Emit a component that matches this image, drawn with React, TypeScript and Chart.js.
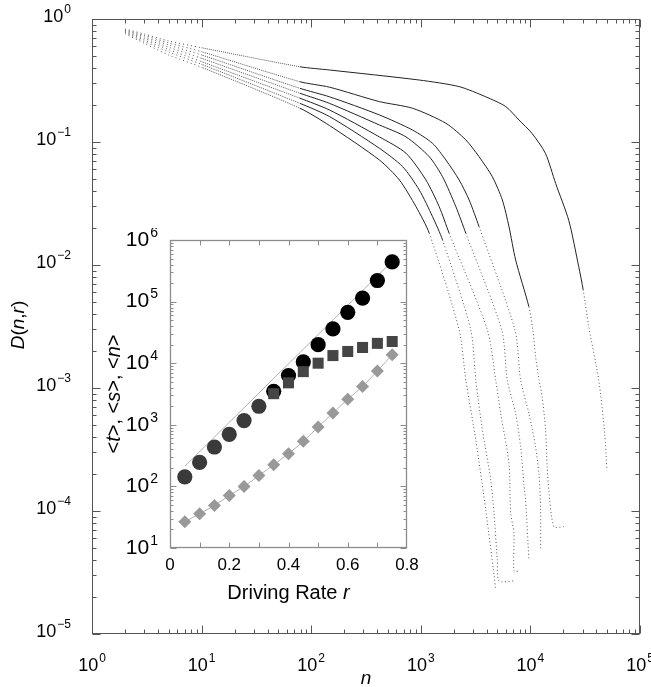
import React, { useEffect, useRef } from "react";
import { Chart, registerables } from "chart.js";

Chart.register(...registerables);

const FONT = '"Liberation Sans", Arial, Helvetica, sans-serif';

// ---------- main plot: D(n, r) curves (7 driving rates) ----------
const c1N = [2, 3, 5, 10, 79, 147, 969, 2240, 3920, 5960, 7860, 10300, 13700, 17000, 22400, 27600, 30300, 34000, 42000, 47600, 49900];
const c1D = [0.83, 0.755, 0.663, 0.584, 0.409, 0.385, 0.319, 0.282, 0.233, 0.194, 0.151, 0.118, 0.081, 0.046, 0.023, 0.0097, 0.0063, 0.0032, 0.00116, 0.00043, 0.000215];

const c2N = [2, 3, 5, 10, 79, 147, 419, 842, 1694, 2576, 3401, 4497, 5546, 6378, 7330, 9688, 10535, 11142, 12000, 12800, 13750, 14220, 14730, 16370, 20170];
const c2D = [0.82, 0.735, 0.64, 0.542, 0.309, 0.279, 0.213, 0.188, 0.142, 0.104, 0.0759, 0.0522, 0.0338, 0.0205, 0.011, 0.00458, 0.00296, 0.0018, 0.00116, 0.00085, 0.000456, 0.000229, 0.000148, 0.0000745, 0.0000745];

const c3N = [2, 3, 5, 10, 79, 147, 419, 842, 1280, 1694, 2239, 2761, 3401, 7232, 8140, 9688, 11142, 11950, 12390, 12400];
const c3D = [0.81, 0.715, 0.615, 0.51, 0.273, 0.233, 0.166, 0.125, 0.0975, 0.0714, 0.0491, 0.0338, 0.0205, 0.00296, 0.00116, 0.00062, 0.000333, 0.000202, 0.000102, 0.0000497];

const c4N = [2, 3, 5, 10, 79, 147, 419, 733, 1195, 1578, 2089, 2576, 5474, 6155, 7330, 8140, 8730, 9040, 9688];
const c4D = [0.795, 0.695, 0.59, 0.479, 0.249, 0.206, 0.1375, 0.11, 0.0759, 0.0522, 0.0298, 0.0181, 0.00296, 0.00116, 0.00062, 0.000333, 0.000163, 0.000123, 0.00004];

const c5N = [2, 3, 5, 10, 79, 147, 419, 733, 1114, 1472, 1815, 4049, 4826, 5358, 6378, 6607, 7083, 7083, 7859];
const c5D = [0.785, 0.675, 0.565, 0.45, 0.227, 0.182, 0.11, 0.081, 0.0491, 0.0298, 0.0181, 0.00296, 0.00116, 0.00062, 0.000244, 0.000096, 0.000066, 0.0000325, 0.0000325];

const c6N = [2, 3, 5, 10, 79, 147, 419, 683, 969, 1280, 1578, 2860, 3175, 3648, 4348, 4656, 4990, 5174, 7083];
const c6D = [0.775, 0.655, 0.54, 0.428, 0.206, 0.161, 0.0889, 0.063, 0.0407, 0.0247, 0.016, 0.00296, 0.00116, 0.000456, 0.000179, 0.000096, 0.00004, 0.000027, 0.000027];

const c7N = [2, 3, 5, 10, 79, 147, 419, 638, 904, 1195, 2239, 2576, 3175, 3915, 4826];
const c7D = [0.76, 0.634, 0.51, 0.405, 0.188, 0.136, 0.0714, 0.0491, 0.0298, 0.0181, 0.00296, 0.00116, 0.000378, 0.000102, 0.0000235];

const mainCurves: [number[], number[]][] = [
  [c1N, c1D], [c2N, c2D], [c3N, c3D], [c4N, c4D], [c5N, c5D], [c6N, c6D], [c7N, c7D],
];

const mainXExps = [0, 1, 2, 3, 4, 5];
const mainYExps = [0, -1, -2, -3, -4, -5];

// ---------- inset: averages vs driving rate ----------
const rateR = [0.05, 0.1, 0.15, 0.2, 0.25, 0.3, 0.35, 0.4, 0.45, 0.5, 0.55, 0.6, 0.65, 0.7, 0.75];
const meanT = [143, 245, 436, 700, 1170, 2000, 3500, 6300, 10500, 20000, 36000, 67000, 114000, 220000, 440000];
const rateS = [0.35, 0.4, 0.45, 0.5, 0.55, 0.6, 0.65, 0.7, 0.75];
const meanS = [3200, 4800, 7300, 10000, 13300, 15500, 18000, 21000, 22500];
const meanN = [26.6, 36, 49, 71, 100, 150, 225, 340, 540, 920, 1550, 2600, 4200, 7500, 13700];
const fitR = [0.05, 0.75];
const fitT = [212, 450000];

const insetXTicks = [0, 0.2, 0.4, 0.6, 0.8];
const insetXLabels = ["0", "0.2", "0.4", "0.6", "0.8"];
const insetYExps = [1, 2, 3, 4, 5, 6];

type Part = [string, boolean];

function expText(e: number) {
  return e < 0 ? "\u2212" + Math.abs(e) : String(e);
}

function drawParts(ctx: CanvasRenderingContext2D, parts: Part[], cx: number, cy: number, size: number, rotate: boolean) {
  ctx.save();
  ctx.translate(cx, cy);
  if (rotate) ctx.rotate(-Math.PI / 2);
  const widths = parts.map(([t, it]) => {
    ctx.font = `${it ? "italic " : ""}${size}px ${FONT}`;
    return ctx.measureText(t).width;
  });
  const total = widths.reduce((a, b) => a + b, 0);
  let x = -total / 2;
  ctx.textBaseline = "middle";
  ctx.textAlign = "left";
  ctx.fillStyle = "#000";
  parts.forEach(([t, it], i) => {
    ctx.font = `${it ? "italic " : ""}${size}px ${FONT}`;
    ctx.fillText(t, x, 0);
    x += widths[i];
  });
  ctx.restore();
}

function drawPower(
  ctx: CanvasRenderingContext2D, exp: string, x: number, y: number,
  align: "right" | "center", baseSize: number, expSize: number, raise: number
) {
  ctx.save();
  ctx.fillStyle = "#000";
  ctx.textBaseline = "middle";
  ctx.textAlign = "left";
  ctx.font = `${baseSize}px ${FONT}`;
  const wb = ctx.measureText("10").width;
  ctx.font = `${expSize}px ${FONT}`;
  const we = ctx.measureText(exp).width;
  const total = wb + we + 1;
  const left = align === "right" ? x - total : x - total / 2;
  ctx.font = `${baseSize}px ${FONT}`;
  ctx.fillText("10", left, y);
  ctx.font = `${expSize}px ${FONT}`;
  ctx.fillText(exp, left + wb + 1, y - raise);
  ctx.restore();
}

const mainDecor = {
  id: "mainDecor",
  afterDraw(chart: any) {
    const { ctx, chartArea: a, scales } = chart;
    const xs = scales.x, ys = scales.y;
    const L = Math.round(a.left) + 0.5, R = Math.round(a.right) - 0.5;
    const T = Math.round(a.top) + 0.5, B = Math.round(a.bottom) - 0.5;
    ctx.save();
    ctx.strokeStyle = "#555";
    ctx.lineWidth = 1;
    ctx.strokeRect(L, T, R - L, B - T);
    ctx.beginPath();
    for (let e = 0; e <= 5; e++) {
      for (let m = 1; m < 10; m++) {
        if (e === 5 && m > 1) break;
        const px = Math.round(xs.getPixelForValue(m * Math.pow(10, e))) + 0.5;
        const len = m === 1 ? 8 : 4;
        ctx.moveTo(px, B); ctx.lineTo(px, B - len);
        ctx.moveTo(px, T); ctx.lineTo(px, T + len);
      }
    }
    for (let e = -5; e <= 0; e++) {
      for (let m = 1; m < 10; m++) {
        if (e === 0 && m > 1) break;
        const py = Math.round(ys.getPixelForValue(m * Math.pow(10, e))) + 0.5;
        const len = m === 1 ? 8 : 4;
        ctx.moveTo(L, py); ctx.lineTo(L + len, py);
        ctx.moveTo(R, py); ctx.lineTo(R - len, py);
      }
    }
    ctx.stroke();
    ctx.restore();

    mainYExps.forEach((e) => {
      const py = ys.getPixelForValue(Math.pow(10, e));
      drawPower(ctx, expText(e), 71, py - 2, "right", 18, 12, 7);
    });
    mainXExps.forEach((e) => {
      const px = xs.getPixelForValue(Math.pow(10, e));
      drawPower(ctx, String(e), px, 666, "center", 18, 12, 7);
    });
    drawParts(ctx, [["n", true]], (a.left + a.right) / 2, 679, 19, false);
    drawParts(ctx, [["D", true], ["(", false], ["n", true], [",", false], ["r", true], [")", false]], 19, 325, 19, true);
  },
};

const insetDecor = {
  id: "insetDecor",
  afterDraw(chart: any) {
    const { ctx, chartArea: a, scales } = chart;
    const xs = scales.x, ys = scales.y;
    const L = Math.round(a.left) + 0.5, R = Math.round(a.right) - 0.5;
    const T = Math.round(a.top) + 0.5, B = Math.round(a.bottom) - 0.5;
    ctx.save();
    ctx.strokeStyle = "#8c8c8c";
    ctx.lineWidth = 1.3;
    ctx.strokeRect(L, T, R - L, B - T);
    ctx.lineWidth = 1;
    ctx.beginPath();
    for (let k = 1; k < 8; k++) {
      const px = Math.round(xs.getPixelForValue(k / 10)) + 0.5;
      ctx.moveTo(px, B); ctx.lineTo(px, B - 5);
      ctx.moveTo(px, T); ctx.lineTo(px, T + 5);
    }
    for (let e = 1; e <= 6; e++) {
      for (let m = 1; m < 10; m++) {
        if (e === 6 && m > 1) break;
        const py = Math.round(ys.getPixelForValue(m * Math.pow(10, e))) + 0.5;
        const len = m === 1 ? 6 : 3;
        ctx.moveTo(L, py); ctx.lineTo(L + len, py);
        ctx.moveTo(R, py); ctx.lineTo(R - len, py);
      }
    }
    ctx.stroke();
    ctx.restore();

    insetYExps.forEach((e) => {
      const py = ys.getPixelForValue(Math.pow(10, e));
      drawPower(ctx, String(e), a.left - 12, py, "right", 21, 14, 7);
    });
    insetXTicks.forEach((v, i) => {
      const px = xs.getPixelForValue(v);
      drawParts(ctx, [[insetXLabels[i], false]], px, a.bottom + 17, 17, false);
    });
    drawParts(ctx, [["Driving Rate ", false], ["r", true]], (a.left + a.right) / 2, a.bottom + 45, 20, false);
    drawParts(
      ctx,
      [["<", false], ["t", true], [">, <", false], ["s", true], [">, <", false], ["n", true], [">", false]],
      a.left - 56, (a.top + a.bottom) / 2, 20, true
    );
  },
};

function dashFor(c: any) {
  const x0 = c.p0.parsed.x;
  const y1 = c.p1.parsed.y;
  if (x0 < 10) return [1, 3];
  if (x0 < 50) return [1, 1];
  if (y1 < 4e-3) return [1, 2.5];
  return undefined;
}
function colorFor(c: any) {
  const x0 = c.p0.parsed.x;
  const y1 = c.p1.parsed.y;
  if (x0 < 50 || y1 < 4e-3) return "#555";
  return undefined;
}

export default function App() {
  const mainRef = useRef<HTMLCanvasElement>(null);
  const insetRef = useRef<HTMLCanvasElement>(null);

  useEffect(() => {
    const main = new Chart(mainRef.current!, {
      type: "scatter",
      data: {
        datasets: mainCurves.map(([n, d]) => ({
          data: n.map((v, i) => ({ x: v, y: d[i] })),
          showLine: true,
          borderColor: "#222",
          borderWidth: 1,
          pointRadius: 0,
          tension: 0.25,
          segment: { borderDash: dashFor, borderColor: colorFor },
        })),
      },
      options: {
        animation: false,
        responsive: false,
        devicePixelRatio: 1,
        events: [],
        layout: { padding: { left: 92, right: 11, top: 19, bottom: 53 } },
        scales: {
          x: { type: "logarithmic", min: 1, max: 1e5, display: false },
          y: { type: "logarithmic", min: 1e-5, max: 1, display: false },
        },
        plugins: { legend: { display: false }, tooltip: { enabled: false } },
      },
      plugins: [mainDecor],
    } as any);

    const inset = new Chart(insetRef.current!, {
      type: "scatter",
      data: {
        datasets: [
          {
            data: rateS.map((r, i) => ({ x: r, y: meanS[i] })),
            pointStyle: "rect",
            pointRadius: 7.8,
            pointBackgroundColor: "#454545",
            pointBorderWidth: 0,
            showLine: false,
          },
          {
            data: rateR.map((r, i) => ({ x: r, y: meanT[i] })),
            pointStyle: "circle",
            pointRadius: 7.6,
            pointBackgroundColor: (c: any) => (c.raw && c.raw.x <= 0.3 ? "#3a3a3a" : "#000"),
            pointBorderWidth: 0,
            showLine: false,
          },
          {
            data: rateR.map((r, i) => ({ x: r, y: meanN[i] })),
            pointStyle: "rectRot",
            pointRadius: 6.5,
            pointBackgroundColor: "#999",
            pointBorderWidth: 0,
            showLine: true,
            borderColor: "#b0b0b0",
            borderWidth: 1,
            tension: 0.3,
          },
          {
            data: fitR.map((r, i) => ({ x: r, y: fitT[i] })),
            pointRadius: 0,
            showLine: true,
            borderColor: "#b0b0b0",
            borderWidth: 1,
          },
        ],
      },
      options: {
        animation: false,
        responsive: false,
        devicePixelRatio: 1,
        events: [],
        layout: { padding: { left: 75, right: 13, top: 12, bottom: 62 } },
        scales: {
          x: { type: "linear", min: 0, max: 0.8, display: false },
          y: { type: "logarithmic", min: 10, max: 1e6, display: false },
        },
        plugins: { legend: { display: false }, tooltip: { enabled: false } },
      },
      plugins: [insetDecor],
    } as any);

    return () => {
      main.destroy();
      inset.destroy();
    };
  }, []);

  return (
    <div style={{ position: "absolute", left: 0, top: 0, width: 651, height: 687, background: "#fff" }}>
      <canvas ref={mainRef} width={651} height={687} style={{ position: "absolute", left: 0, top: 0 }} />
      <canvas ref={insetRef} width={325} height={382} style={{ position: "absolute", left: 95, top: 228 }} />
    </div>
  );
}
